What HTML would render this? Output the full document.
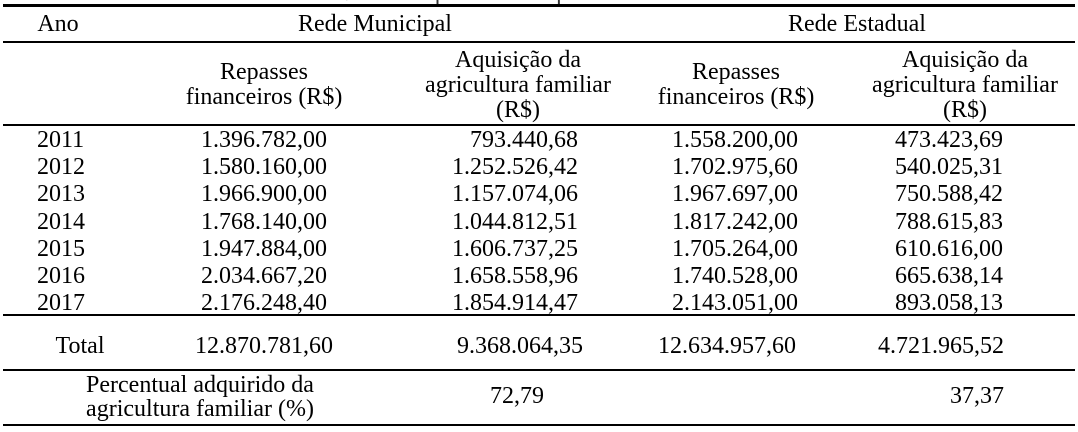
<!DOCTYPE html>
<html><head><meta charset="utf-8"><style>
html,body{margin:0;padding:0;background:#fff;}
#t{position:relative;width:1078px;height:432px;overflow:hidden;font-family:"Liberation Serif",serif;font-size:24px;color:#000;}
.l{position:absolute;left:3px;width:1072px;background:#000;}
.c{position:absolute;white-space:nowrap;line-height:24px;}
.h{line-height:25px;}
.ctr{transform:translateX(-50%);text-align:center;}
.r{transform:translateX(-100%);text-align:right;}
</style></head><body>
<div id="t">
<div class="c ctr" style="left:560px;top:-19px;color:#333">Valores repassados no período de 2011 a 2017</div>
<div class="l" style="top:4px;height:3px"></div>
<div class="l" style="top:41px;height:2px"></div>
<div class="l" style="top:124px;height:2px"></div>
<div class="l" style="top:314px;height:2px"></div>
<div class="l" style="top:369px;height:2px"></div>
<div class="l" style="top:424px;height:2px"></div>

<div class="c ctr" style="left:58px;top:12px">Ano</div>
<div class="c ctr" style="left:375px;top:12px">Rede Municipal</div>
<div class="c ctr" style="left:857px;top:12px">Rede Estadual</div>

<div class="c h ctr" style="left:264px;top:60px">Repasses<br>financeiros (R$)</div>
<div class="c h ctr" style="left:518px;top:48px">Aquisição da<br>agricultura familiar<br>(R$)</div>
<div class="c h ctr" style="left:736px;top:60px">Repasses<br>financeiros (R$)</div>
<div class="c h ctr" style="left:965px;top:48px">Aquisição da<br>agricultura familiar<br>(R$)</div>

<div class="c ctr" style="left:80px;top:334px">Total</div>
<div class="c ctr" style="left:264px;top:334px">12.870.781,60</div>
<div class="c ctr" style="left:520px;top:334px">9.368.064,35</div>
<div class="c ctr" style="left:727px;top:334px">12.634.957,60</div>
<div class="c r" style="left:1004px;top:334px">4.721.965,52</div>

<div class="c ctr" style="left:200px;top:373px">Percentual adquirido da<br>agricultura familiar (%)</div>
<div class="c ctr" style="left:517px;top:384px">72,79</div>
<div class="c r" style="left:1004px;top:384px">37,37</div>
</div>
<script>
const years=["2011","2012","2013","2014","2015","2016","2017"];
const repMun=["1.396.782,00","1.580.160,00","1.966.900,00","1.768.140,00","1.947.884,00","2.034.667,20","2.176.248,40"];
const aqMun=["793.440,68","1.252.526,42","1.157.074,06","1.044.812,51","1.606.737,25","1.658.558,96","1.854.914,47"];
const repEst=["1.558.200,00","1.702.975,60","1.967.697,00","1.817.242,00","1.705.264,00","1.740.528,00","2.143.051,00"];
const aqEst=["473.423,69","540.025,31","750.588,42","788.615,83","610.616,00","665.638,14","893.058,13"];
const t=document.getElementById('t');
function cell(txt,x,y,cls,name){
  const d=document.createElement('div');
  d.className='c '+cls;
  d.style.left=x+'px';d.style.top=y+'px';
  d.textContent=txt;
  
  
  t.appendChild(d);
}
years.forEach((y,i)=>{
  const top=128+i*27.2;
  cell(y,37,top,'','year-'+y);
  cell(repMun[i],264,top,'ctr','repasses-municipal-'+y);
  cell(aqMun[i],578,top,'r','aquisicao-municipal-'+y);
  cell(repEst[i],735,top,'ctr','repasses-estadual-'+y);
  cell(aqEst[i],1003,top,'r','aquisicao-estadual-'+y);
});
</script>
</body></html>
